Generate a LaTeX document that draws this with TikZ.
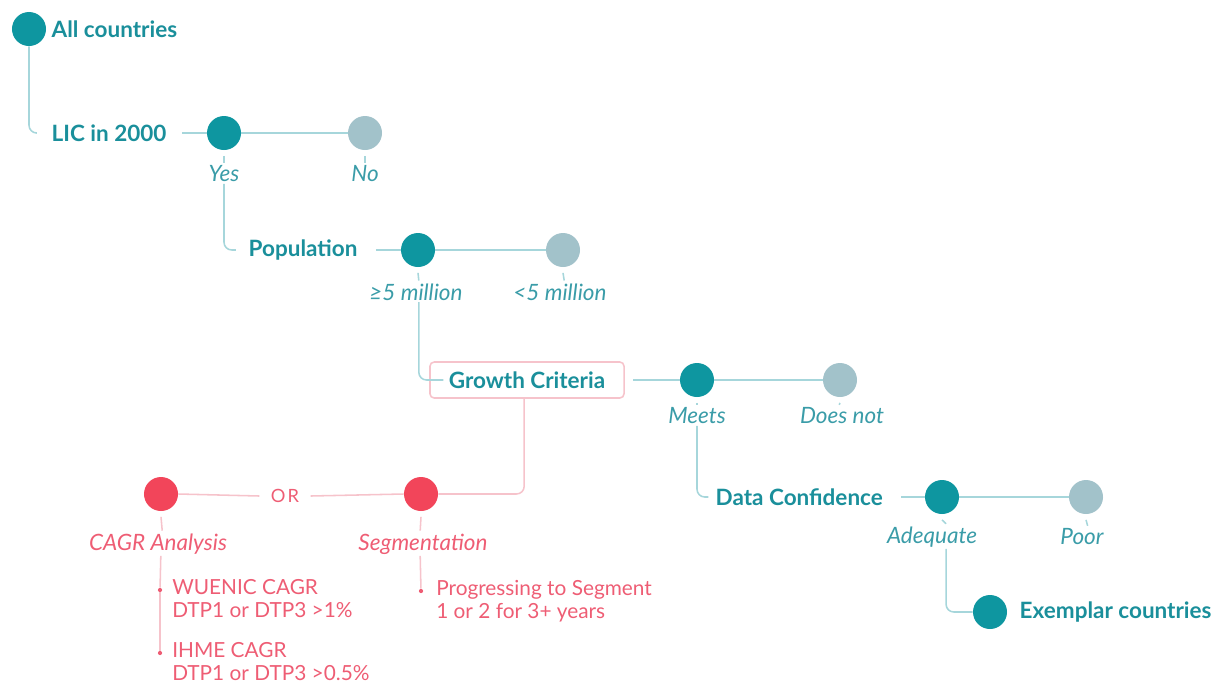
\documentclass[tikz,border=0pt]{standalone}
\usepackage{fontspec}
\setmainfont{Lato}
\definecolor{tealdark}{HTML}{0E96A0}
\definecolor{tealtext}{HTML}{1A8F9B}
\definecolor{teallabel}{HTML}{3A9CA8}
\definecolor{grayc}{HTML}{A2C2CA}
\definecolor{tline}{HTML}{A6D6DB}
\definecolor{pinkc}{HTML}{F2455A}
\definecolor{pinktext}{HTML}{EE5D74}
\definecolor{pline}{HTML}{F6C3CB}
\begin{document}
\begin{tikzpicture}[x=0.025cm,y=-0.025cm,
  dotT/.style={circle,fill=tealdark,minimum size=0.85cm,inner sep=0},
  dotG/.style={circle,fill=grayc,minimum size=0.85cm,inner sep=0},
  dotP/.style={circle,fill=pinkc,minimum size=0.85cm,inner sep=0},
  head/.style={font=\fontsize{16}{18}\selectfont\bfseries,text=tealtext,inner sep=1pt},
  lab/.style={font=\fontsize{16}{18}\selectfont\itshape,text=teallabel,inner sep=1pt},
  plab/.style={font=\fontsize{16}{18}\selectfont\itshape,text=pinktext,inner sep=1pt},
  ptext/.style={font=\fontsize{14.8}{16.3}\selectfont,text=pinktext,align=left,inner sep=0pt},
  tl/.style={draw=tline,line width=1.1pt},
  pl/.style={draw=pline,line width=1.1pt},
  corner/.style={rounded corners=5.5pt},
  bul/.style={circle,fill=pinktext,minimum size=3pt,inner sep=0}
]
\path[use as bounding box] (0,0) rectangle (1220,692);

% Level 0
\node[dotT] (c0) at (29,29) {};
\node[head,anchor=west] (all) at (50,29) {All countries};

% Level 1
\node[head,anchor=west] (lic) at (50,133) {LIC in 2000};
\node[dotT] (c1a) at (224,133) {};
\node[dotG] (c1b) at (365,133) {};
\node[lab] (yes) at (224,174) {Yes};
\node[lab] (no) at (365,174) {No};
\draw[tl,corner] (c0.south) |- ([xshift=-10]lic.west);
\draw[tl] ([xshift=10]lic.east) -- (c1a.west);
\draw[tl] (c1a.east) -- (c1b.west);
\draw[tl] ([yshift=-4]c1a.south) -- ([yshift=1]yes.north);
\draw[tl] ([yshift=-4]c1b.south) -- ([yshift=1]no.north);

% Level 2
\node[head,anchor=west] (pop) at (247,250) {Population};
\node[dotT] (c2a) at (418,250) {};
\node[dotG] (c2b) at (563,250) {};
\node[lab] (ge5) at (416,292) {≥5 million};
\node[lab] (lt5) at (560,292) {<5 million};
\draw[tl,corner] (yes.south) |- ([xshift=-8]pop.west);
\draw[tl] ([xshift=12]pop.east) -- (c2a.west);
\draw[tl] (c2a.east) -- (c2b.west);
\draw[tl] ([yshift=-4]c2a.south) -- ([xshift=2,yshift=1]ge5.north);
\draw[tl] ([yshift=-4]c2b.south) -- ([xshift=3,yshift=1]lt5.north);

% Level 3
\node[head,draw=pline,line width=1.1pt,rounded corners=3pt,minimum width=4.85cm,minimum height=0.9cm] (gc) at (527,380) {Growth Criteria};
\node[dotT] (c3a) at (697,380) {};
\node[dotG] (c3b) at (840,380) {};
\node[lab] (meets) at (697,416) {Meets};
\node[lab] (doesnot) at (842,416) {Does not};
\draw[tl,corner] ([xshift=2]ge5.south) |- ([xshift=10]gc.west);
\draw[tl] ([xshift=6]gc.east) -- (c3a.west);
\draw[tl] (c3a.east) -- (c3b.west);
\draw[tl] ([yshift=-4]c3a.south) -- ([yshift=1]meets.north);
\draw[tl] ([yshift=-4]c3b.south) -- ([xshift=-2,yshift=1]doesnot.north);

% Level 4
\node[head,anchor=west] (dc) at (714,497) {Data Confidence};
\node[dotT] (c4a) at (942,497) {};
\node[dotG] (c4b) at (1086,497) {};
\node[lab] (adeq) at (932,537) {Adequate};
\node[lab] (poor) at (1082,537) {Poor};
\draw[tl,corner] (meets.south) |- ([xshift=-4]dc.west);
\draw[tl] ([xshift=12]dc.east) -- (c4a.west);
\draw[tl] (c4a.east) -- (c4b.west);
\draw[tl] ([yshift=-4]c4a.south) -- ([xshift=10,yshift=1]adeq.north);
\draw[tl] ([yshift=-4]c4b.south) -- ([xshift=4,yshift=1]poor.north);

% Level 5
\node[dotT] (c5) at (990,612) {};
\node[head,anchor=west] (ex) at (1018,612) {Exemplar countries};
\draw[tl,corner] ([xshift=10]adeq.south) |- (c5.west);

% Pink branch
\node[dotP] (p1) at (161,494) {};
\node[dotP] (p2) at (421,494) {};
\node[font=\fontsize{13}{15}\selectfont,text=pinktext,inner sep=2pt] (or) at (285,496) {O\kern1.5pt R};
\node[plab] (cagr) at (158,544) {CAGR Analysis};
\node[plab] (seg) at (423,544) {Segmentation};
\draw[pl,corner] ([xshift=-2]gc.south) |- (p2.east);
\draw[pl] (p2.west) -- ([xshift=6]or.east);
\draw[pl] ([xshift=-6]or.west) -- (p1.east);
\draw[pl] ([yshift=-4]p1.south) -- ([xshift=3,yshift=1]cagr.north);
\draw[pl] ([yshift=-4]p2.south) -- ([xshift=-2,yshift=1]seg.north);

\node[bul] (b1) at (160,590) {};
\node[bul] (b2) at (160,653) {};
\node[bul] (b3) at (421,591) {};
\node[ptext,anchor=north west] (t1) at (172,579) {WUENIC CAGR\\DTP1 or DTP3 >1\%};
\node[ptext,anchor=north west] (t2) at (172,642) {IHME CAGR\\DTP1 or DTP3 >0.5\%};
\node[ptext,anchor=north west] (t3) at (436,580) {Progressing to Segment\\1 or 2 for 3+ years};
\draw[pl] ([xshift=2]cagr.south) -- (b1);
\draw[pl] (b1) -- (b2);
\draw[pl] ([xshift=-2]seg.south) -- (b3);
\end{tikzpicture}
\end{document}
